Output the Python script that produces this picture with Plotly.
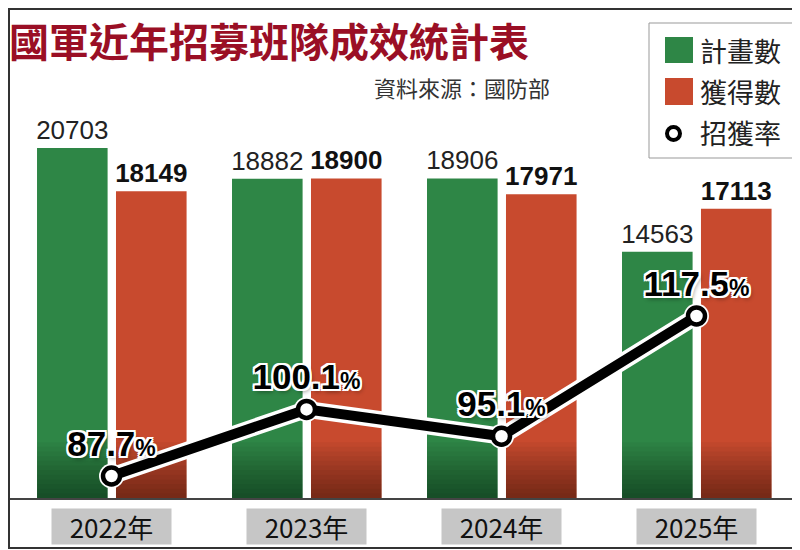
import plotly.graph_objects as go

# data
years = ['2022年', '2023年', '2024年', '2025年']
planned = [20703, 18882, 18906, 14563]     # 計畫數
recruited = [18149, 18900, 17971, 17113]   # 獲得數
rates = [87.7, 100.1, 95.1, 117.5]         # 招獲率 (%)

# the page puts the figure 8px in from the top-left corner
OFF = 8
W, H = 800 - OFF, 550 - OFF
BASE_Y = 498  # screen row of the bar baseline


def px(x):
    # screen column -> paper x (no side margins)
    return (x - OFF) / W


def py(y):
    # screen row -> paper y (plot area spans rows OFF..BASE_Y)
    return (BASE_Y - y) / (BASE_Y - OFF)


GREEN = '#2e8646'
RED = '#c84a2e'
BAR_W = 0.362
GREEN_OFF = -0.382
RED_OFF = 0.023
CJK = 'Noto Sans CJK TC'
LATIN = 'Liberation Sans'

fig = go.Figure()

# main bars
fig.add_trace(go.Bar(
    x=years, y=planned, name='計畫數',
    width=BAR_W, offset=GREEN_OFF,
    marker=dict(color=GREEN, line=dict(width=0)),
    text=[str(v) for v in planned], textposition='outside',
    textfont=dict(family=LATIN, size=26, color='#222'),
    cliponaxis=False, constraintext='none',
))
fig.add_trace(go.Bar(
    x=years, y=recruited, name='獲得數',
    width=BAR_W, offset=RED_OFF,
    marker=dict(color=RED, line=dict(width=0)),
    text=[str(v) for v in recruited], textposition='outside',
    textfont=dict(family=LATIN, size=26, color='#111', weight='bold'),
    cliponaxis=False, constraintext='none',
))

# darker band at the foot of every bar (stepped gradient)
SHADE_STEPS = 12
SHADE_TOP = 3300
for k in range(1, SHADE_STEPS + 1):
    for off in (GREEN_OFF, RED_OFF):
        fig.add_trace(go.Bar(
            x=years, y=[SHADE_TOP * k / SHADE_STEPS] * len(years),
            width=BAR_W, offset=off,
            marker=dict(color='rgba(0,0,0,0.04)', line=dict(width=0)),
            hoverinfo='skip', showlegend=False,
        ))

# rate line: white halo underneath, black line on top
fig.add_trace(go.Scatter(
    x=years, y=rates, yaxis='y2', mode='lines+markers',
    line=dict(color='white', width=17),
    marker=dict(size=25, color='white'),
    hoverinfo='skip', showlegend=False,
))
halo = ', '.join(f'{dx}px {dy}px 0 #fff' for dx in (-2, 0, 2) for dy in (-2, 0, 2)
                 if (dx, dy) != (0, 0))
fig.add_trace(go.Scatter(
    x=years, y=rates, yaxis='y2', name='招獲率',
    mode='lines+markers+text',
    line=dict(color='black', width=10),
    marker=dict(size=17, color='white', line=dict(color='black', width=4.5)),
    text=[f"{r}<span style='font-size:23px'>%</span>" for r in rates],
    textposition='top center',
    textfont=dict(family=LATIN, size=35, color='black', weight='bold',
                  shadow=halo + ', 2px 3px 4px rgba(0,0,0,0.4)'),
    cliponaxis=False,
))

shapes = []
annotations = []

# outer frame
shapes.append(dict(type='rect', xref='paper', yref='paper',
                   x0=px(9), x1=px(799), y0=py(548), y1=py(9),
                   line=dict(color='#333', width=2)))

# title + source
annotations.append(dict(xref='paper', yref='paper', x=px(7), y=py(40),
                        xanchor='left', yanchor='middle', showarrow=False,
                        text='<b>國軍近年招募班隊成效統計表</b>',
                        font=dict(family=CJK, size=40, color='#9a0f25')))
annotations.append(dict(xref='paper', yref='paper', x=px(552), y=py(87),
                        xanchor='right', yanchor='middle', showarrow=False,
                        text='資料來源：國防部',
                        font=dict(family=CJK, size=22, color='#333')))

# legend
shapes.append(dict(type='rect', xref='paper', yref='paper',
                   x0=px(649), x1=px(798), y0=py(158), y1=py(23),
                   line=dict(color='#999', width=1), fillcolor='white'))
shapes.append(dict(type='rect', xref='paper', yref='paper',
                   x0=px(665), x1=px(693), y0=py(63), y1=py(37),
                   line=dict(width=0), fillcolor=GREEN))
shapes.append(dict(type='rect', xref='paper', yref='paper',
                   x0=px(665), x1=px(693), y0=py(105), y1=py(78),
                   line=dict(width=0), fillcolor=RED))
shapes.append(dict(type='circle', xref='paper', yref='paper',
                   x0=px(667), x1=px(680), y0=py(140), y1=py(127),
                   line=dict(color='black', width=4), fillcolor='white'))
for label, row in zip(['計畫數', '獲得數', '招獲率'], [50, 91, 133]):
    annotations.append(dict(xref='paper', yref='paper', x=px(698), y=py(row),
                            xanchor='left', yanchor='middle', showarrow=False,
                            text=label,
                            font=dict(family=CJK, size=27, color='#222')))

# year labels in grey boxes
for yr in years:
    annotations.append(dict(xref='x', yref='paper', x=yr, y=py(526),
                            xanchor='center', yanchor='middle', showarrow=False,
                            text=yr, width=117, height=33, bgcolor='#c6c6c6',
                            font=dict(family=CJK, size=26, color='#111')))

fig.update_layout(
    width=W, height=H,
    barmode='overlay',
    showlegend=False,
    paper_bgcolor='white', plot_bgcolor='white',
    margin=dict(l=0, r=0, t=0, b=H - (BASE_Y - OFF), pad=0),
    xaxis=dict(type='category', range=[-0.5308, 3.5308],
               showline=True, linecolor='#444', linewidth=1.5,
               showticklabels=False, ticks='', showgrid=False, zeroline=False,
               fixedrange=True),
    yaxis=dict(range=[0, 28984], visible=False, fixedrange=True),
    yaxis2=dict(overlaying='y', range=[83.6, 174.85], visible=False,
                fixedrange=True),
    shapes=shapes,
    annotations=annotations,
)

fig.write_html('out.html')
